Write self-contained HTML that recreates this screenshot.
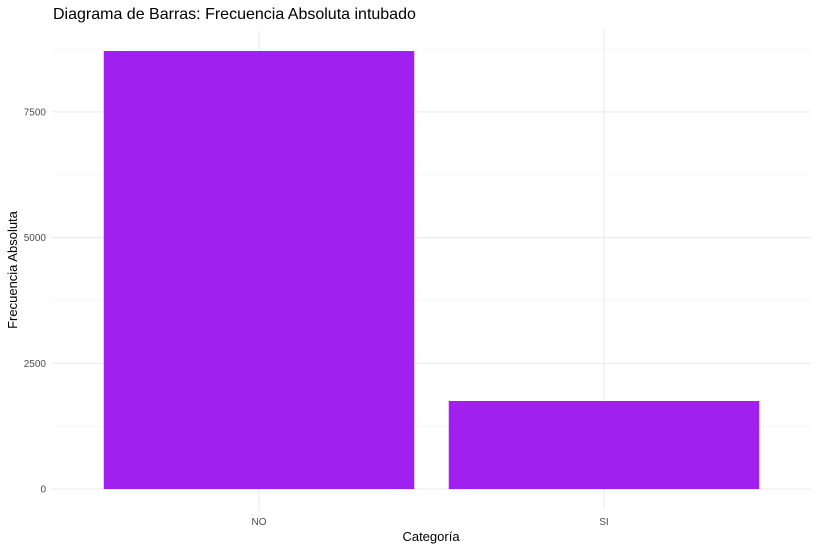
<!DOCTYPE html>
<html><head><meta charset="utf-8"><style>
body{margin:0;background:#fff;}
svg{display:block;font-family:"Liberation Sans",sans-serif;}
</style></head><body>
<svg id="chart" width="817" height="551">
<text x="53" y="19" font-size="16" fill="#000">Diagrama de Barras: Frecuencia Absoluta intubado</text>
<text x="431" y="541" font-size="13" text-anchor="middle" fill="#000">Categoría</text>
<text transform="translate(17,270) rotate(-90)" font-size="13" text-anchor="middle" fill="#000">Frecuencia Absoluta</text>
<g id="grid"></g><g id="bars"></g><g id="ticks"></g>
</svg>
<script>
const categories = ["NO", "SI"];
const values = [8711, 1750];
const yTicks = [0, 2500, 5000, 7500];
const yMinor = [1250, 3750, 6250, 8750];
const ns = "http://www.w3.org/2000/svg";
const px0 = 52, px1 = 811, pyTop = 30;
const y = v => 489 - v * (125.7 / 2500);
const unit = (px1 - px0) / 2.2;
const x = i => px0 + (i + 1 - 0.4) * unit;
function mk(tag, attrs, parent){const e=document.createElementNS(ns,tag);for(const k in attrs)e.setAttribute(k,attrs[k]);document.getElementById(parent).appendChild(e);return e;}
yMinor.forEach(v=>{
  const l=mk("line",{x1:px0,x2:px1,y1:y(v),y2:y(v),stroke:"#f2f2f2","stroke-width":0.6},"grid");
  
  
});
yTicks.forEach(v=>{
  const l=mk("line",{x1:px0,x2:px1,y1:y(v),y2:y(v),stroke:"#ebebeb","stroke-width":1.1},"grid");
  
  
  const t=mk("text",{x:46,y:y(v)+3.5,"font-size":10,"text-anchor":"end",fill:"#4d4d4d"},"ticks");
  t.textContent=v;
  
  
});
categories.forEach((c,i)=>{
  const l=mk("line",{x1:x(i),x2:x(i),y1:pyTop,y2:510,stroke:"#ebebeb","stroke-width":1.1},"grid");
  
  
  const w=0.9*unit;
  const r=mk("rect",{x:x(i)-w/2,y:y(values[i]),width:w,height:y(0)-y(values[i]),fill:"#A020F0"},"bars");
  
  
  const t=mk("text",{x:x(i),y:525,"font-size":10,"text-anchor":"middle",fill:"#4d4d4d"},"ticks");
  t.textContent=c;
  
  
});
</script>
</body></html>
